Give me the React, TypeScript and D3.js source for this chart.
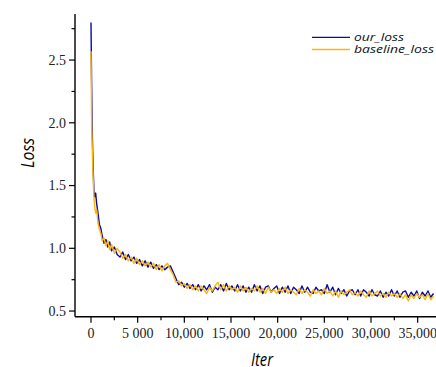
import React from "react";
import * as d3 from "d3";

const iters = [0, 60, 120, 180, 250, 320, 400, 500, 600, 750, 900, 1050, 1200, 1400, 1600, 1800, 2000, 2200, 2500, 2800,
  3100, 3400, 3700, 4000, 4300, 4600, 4900, 5200, 5500, 5800, 6100, 6400, 6700, 7000, 7300, 7600, 7900, 8200, 8500, 8800,
  9100, 9400, 9700, 10000, 10300, 10600, 10900, 11200, 11500, 11800, 12100, 12400, 12700, 13000, 13300, 13600, 13900, 14200, 14500, 14800,
  15100, 15400, 15700, 16000, 16300, 16600, 16900, 17200, 17500, 17800, 18100, 18400, 18700, 19000, 19300, 19600, 19900, 20200, 20500, 20800,
  21100, 21400, 21700, 22000, 22300, 22600, 22900, 23200, 23500, 23800, 24100, 24400, 24700, 25000, 25300, 25600, 25900, 26200, 26500, 26800,
  27100, 27400, 27700, 28000, 28300, 28600, 28900, 29200, 29500, 29800, 30100, 30400, 30700, 31000, 31300, 31600, 31900, 32200, 32500, 32800,
  33100, 33400, 33700, 34000, 34300, 34600, 34900, 35200, 35500, 35800, 36100, 36400, 36700];

const ourLoss = [2.80, 2.35, 2.00, 1.78, 1.60, 1.45, 1.41, 1.44, 1.36, 1.28, 1.19, 1.16, 1.10, 1.04, 1.07, 1.01, 1.05, 0.98, 1.01, 0.95,
  0.93, 0.97, 0.91, 0.95, 0.90, 0.93, 0.88, 0.91, 0.86, 0.90, 0.85, 0.89, 0.84, 0.87, 0.83, 0.86, 0.83, 0.85, 0.86, 0.81,
  0.76, 0.71, 0.73, 0.69, 0.72, 0.68, 0.71, 0.67, 0.71, 0.66, 0.70, 0.67, 0.71, 0.65, 0.69, 0.67, 0.71, 0.66, 0.72, 0.67,
  0.70, 0.66, 0.71, 0.66, 0.70, 0.65, 0.69, 0.65, 0.71, 0.66, 0.70, 0.64, 0.69, 0.70, 0.65, 0.68, 0.70, 0.64, 0.69, 0.65,
  0.70, 0.64, 0.69, 0.67, 0.64, 0.70, 0.65, 0.69, 0.65, 0.64, 0.69, 0.66, 0.67, 0.64, 0.71, 0.65, 0.69, 0.63, 0.68, 0.64,
  0.67, 0.62, 0.66, 0.67, 0.63, 0.67, 0.62, 0.67, 0.65, 0.62, 0.67, 0.63, 0.62, 0.66, 0.61, 0.65, 0.62, 0.67, 0.62, 0.66,
  0.61, 0.65, 0.66, 0.61, 0.65, 0.62, 0.66, 0.60, 0.65, 0.62, 0.66, 0.61, 0.64];

const baselineLoss = [2.57, 2.06, 1.85, 1.68, 1.52, 1.40, 1.33, 1.28, 1.31, 1.20, 1.15, 1.12, 1.06, 1.08, 1.02, 1.06, 0.99, 1.03, 0.96, 1.00,
  0.97, 0.92, 0.95, 0.90, 0.93, 0.88, 0.92, 0.87, 0.90, 0.86, 0.89, 0.85, 0.88, 0.83, 0.87, 0.82, 0.86, 0.88, 0.83, 0.79,
  0.73, 0.74, 0.70, 0.72, 0.68, 0.71, 0.67, 0.70, 0.66, 0.70, 0.67, 0.64, 0.69, 0.66, 0.70, 0.73, 0.67, 0.71, 0.66, 0.70,
  0.67, 0.69, 0.65, 0.70, 0.66, 0.69, 0.65, 0.68, 0.66, 0.70, 0.65, 0.68, 0.64, 0.69, 0.65, 0.67, 0.64, 0.68, 0.65, 0.69,
  0.64, 0.67, 0.65, 0.63, 0.68, 0.64, 0.67, 0.65, 0.62, 0.67, 0.64, 0.66, 0.63, 0.68, 0.64, 0.66, 0.62, 0.66, 0.61, 0.66,
  0.63, 0.65, 0.67, 0.63, 0.65, 0.62, 0.66, 0.63, 0.61, 0.66, 0.62, 0.64, 0.66, 0.62, 0.64, 0.61, 0.65, 0.62, 0.64, 0.61,
  0.64, 0.60, 0.63, 0.58, 0.63, 0.60, 0.64, 0.61, 0.63, 0.59, 0.64, 0.59, 0.62];

const xMajorTicks = [0, 5000, 10000, 15000, 20000, 25000, 30000, 35000];
const xTickLabels = ["0", "5 000", "10,000", "15,000", "20,000", "25,000", "30,000", "35,000"];
const xMinorTicks = [2500, 7500, 12500, 17500, 22500, 27500, 32500];
const yMajorTicks = [0.5, 1.0, 1.5, 2.0, 2.5];
const yTickLabels = ["0.5", "1.0", "1.5", "2.0", "2.5"];
const yMinorTicks = [0.75, 1.25, 1.75, 2.25, 2.75];

const seriesNames = ["our_loss", "baseline_loss"];
const seriesColors = ["#0a0aa8", "#ffb800"];
const legendWidths = [50, 80];

export default function App() {
  const W = 436, H = 367;
  const left = 75, right = 436, top = 14, bottom = 316.7;
  const x = d3.scaleLinear().domain([-1714, 36964]).range([left, right]);
  const y = d3.scaleLinear().domain([0.455, 2.867]).range([bottom, top]);
  const n = Math.min(iters.length, ourLoss.length, baselineLoss.length);
  const mk = (vals: number[]) =>
    d3.line<number>().x((_, i) => x(iters[i])).y((v) => y(v))(vals.slice(0, n)) || "";
  const series = [ourLoss, baselineLoss];
  const serif = "'Liberation Serif', 'Times New Roman', serif";
  const sans = "'Open Sans', 'DejaVu Sans', sans-serif";
  return (
    <svg width={W} height={H} style={{ position: "absolute", left: 0, top: 0 }}>
      <rect width={W} height={H} fill="#fff" />
      {series.map((s, k) => (
        <path key={k} d={mk(s)} fill="none" stroke={seriesColors[k]} strokeWidth={1.4} strokeLinejoin="round" />
      ))}
      <line x1={left} x2={left} y1={top} y2={bottom} stroke="#000" strokeWidth={1.4} />
      <line x1={left} x2={right} y1={bottom} y2={bottom} stroke="#000" strokeWidth={1.4} />
      {yMajorTicks.map((t, i) => (
        <g key={"ym" + i}>
          <line x1={left - 6} x2={left} y1={y(t)} y2={y(t)} stroke="#000" strokeWidth={1.2} />
          <text x={left - 9} y={y(t)} dy="0.35em" textAnchor="end" fontFamily={serif} fontSize={14} fill="#222">
            {yTickLabels[i]}
          </text>
        </g>
      ))}
      {yMinorTicks.map((t, i) => (
        <line key={"yn" + i} x1={left - 3.5} x2={left} y1={y(t)} y2={y(t)} stroke="#000" strokeWidth={1.2} />
      ))}
      {xMajorTicks.map((t, i) => (
        <g key={"xm" + i}>
          <line x1={x(t)} x2={x(t)} y1={bottom} y2={bottom + 6} stroke="#000" strokeWidth={1.2} />
          <text x={x(t)} y={bottom + 21} textAnchor="middle" fontFamily={serif} fontSize={14} fill="#222">
            {xTickLabels[i]}
          </text>
        </g>
      ))}
      {xMinorTicks.map((t, i) => (
        <line key={"xn" + i} x1={x(t)} x2={x(t)} y1={bottom} y2={bottom + 3.5} stroke="#000" strokeWidth={1.2} />
      ))}
      <text transform="translate(33.5,153) rotate(-90)" textAnchor="middle" fontFamily={sans} fontStyle="italic" fontSize={19}
        fontWeight={500} textLength={30} lengthAdjust="spacingAndGlyphs" fill="#000">
        Loss
      </text>
      <text x={262} y={366} textAnchor="middle" fontFamily={sans} fontStyle="italic" fontSize={17.5}
        fontWeight={500} textLength={22} lengthAdjust="spacingAndGlyphs" fill="#000">
        Iter
      </text>
      {seriesNames.map((name, k) => (
        <g key={"lg" + k}>
          <line x1={312} x2={350} y1={37.3 + k * 12.2} y2={37.3 + k * 12.2} stroke={seriesColors[k]} strokeWidth={1.3} />
          <text x={354} y={37.3 + k * 12.2} dy="0.33em" fontFamily={sans} fontStyle="italic" fontSize={11.5}
            textLength={legendWidths[k]} lengthAdjust="spacingAndGlyphs" fill="#111">
            {name}
          </text>
        </g>
      ))}
    </svg>
  );
}
